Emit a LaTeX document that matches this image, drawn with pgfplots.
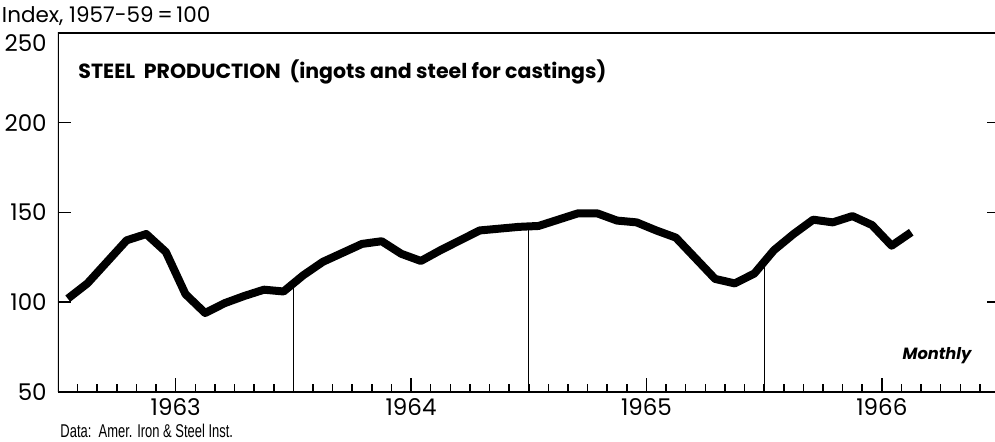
\documentclass[border=0pt]{standalone}
\usepackage{fontspec}
\setmainfont{Poppins}
\newfontfamily\condfont[FakeStretch=0.70]{Liberation Sans}
\usepackage{pgfplots}
\usepackage{pgfplotstable}
\pgfplotsset{compat=1.18}

\pgfplotstableread{
x y
0.5 102
1.5 110.5
2.5 122.5
3.5 134.5
4.5 138
5.5 128
6.5 104.5
7.5 94
8.5 99.5
9.5 103.5
10.5 107
11.5 106
12.5 115
13.5 122.5
14.5 127.5
15.5 132.5
16.5 134
17.5 127
18.5 123
19.5 129
20.5 134.5
21.5 140
22.5 141
23.5 142
24.5 142.5
25.5 146
26.5 149.5
27.5 149.5
28.5 145.5
29.5 144.5
30.5 140
31.5 136
32.5 124.5
33.5 113
34.5 110.5
35.5 116
36.5 129
37.5 138
38.5 146
39.5 144.5
40.5 148
41.5 143
42.5 131.5
43.5 139
}\steel

\begin{document}
\begin{tikzpicture}
\useasboundingbox (-23.2pt,-19.6pt) rectangle (374.8pt,156.8pt);
\begin{axis}[
  at={(0,0)}, anchor=south west,
  scale only axis,
  width=374.8pt, height=143.6pt,
  xmin=0, xmax=47.77, ymin=50, ymax=250,
  axis line style={draw=none},
  tick align=inside,
  xtick pos=bottom, ytick pos=left,
  xtick={6,18,30,42},
  xticklabels={1963,1964,1965,1966},
  minor xtick={1,...,47},
  ytick={50,100,150,200},
  extra y ticks={250},
  extra y tick style={yticklabel style={yshift=-4pt}},
  major tick length=5.4pt,
  minor tick length=3.2pt,
  every tick/.style={black, line width=0.6pt},
  tick label style={font=\fontsize{9.2}{10}\selectfont},
  yticklabel style={xshift=-1pt},
  xticklabel style={yshift=1pt},
  /pgf/number format/assume math mode=true,
  /pgf/number format/1000 sep={},
  clip=true,
]
\addplot[ycomb, black, line width=0.45pt, no markers] coordinates {(12,108) (24,142.3) (36,121)};
\addplot[black, line width=3.2pt, line join=round, line cap=butt, no markers] table[x=x,y=y] {\steel};
\draw[black, line width=0.5pt] (rel axis cs:0,0) -- (rel axis cs:0,1) -- (rel axis cs:1,1);
\draw[black, line width=1.2pt] (rel axis cs:0,0) -- (rel axis cs:1,0);
\end{axis}
\begin{axis}[
  at={(0,0)}, anchor=south west,
  scale only axis,
  width=374.8pt, height=143.6pt,
  xmin=0, xmax=47.77, ymin=50, ymax=250,
  axis line style={draw=none},
  tick align=inside,
  xtick=\empty,
  ytick pos=right,
  ytick={100,150,200},
  yticklabels={},
  major tick length=3.2pt,
  every tick/.style={black, line width=0.6pt},
]
\end{axis}
\node[anchor=west, inner sep=0pt, font=\fontsize{8.6}{10}\selectfont] at (-22.6pt,150.4pt) {Index, 1957-59\,=\,100};
\node[anchor=west, inner sep=0pt, font=\bfseries\fontsize{8.2}{10}\selectfont] at (8pt,128pt) {STEEL\ \ PRODUCTION\ \ (ingots and steel for castings)};
\node[anchor=center, inner sep=0pt, font=\bfseries\itshape\fontsize{6.5}{8}\selectfont] at (351.6pt,14.4pt) {Monthly};
\node[anchor=west, inner sep=0pt, font=\condfont\fontsize{7.4}{8}\selectfont] at (0.8pt,-15.6pt) {Data:\ \ Amer. Iron \& Steel Inst.};
\end{tikzpicture}
\end{document}
